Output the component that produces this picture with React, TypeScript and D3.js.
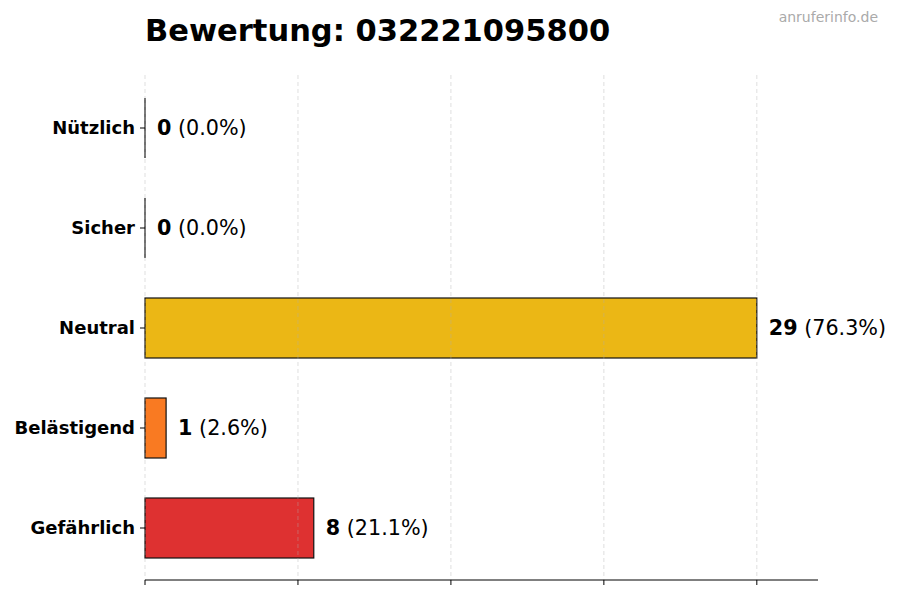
import { useEffect, useRef } from "react";
import * as d3 from "d3";

const categories = ["Nützlich", "Sicher", "Neutral", "Belästigend", "Gefährlich"];
const counts = [0, 0, 29, 1, 8];
const percents = ["0.0%", "0.0%", "76.3%", "2.6%", "21.1%"];
const colors = ["#22C55E", "#3B82F6", "#EAB308", "#F97316", "#DC2626"];

const title = "Bewertung: 032221095800";
const watermark = "anruferinfo.de";

const W = 900;
const H = 600;

export default function App() {
  const svgRef = useRef<SVGSVGElement | null>(null);

  useEffect(() => {
    if (!svgRef.current) return;
    const svg = d3.select(svgRef.current);
    svg.selectAll("*").remove();

    const left = 145;
    const right = 818;
    const top = 75;
    const bottom = 580;
    const maxVal = d3.max(counts) ?? 1;

    const x = d3.scaleLinear().domain([0, maxVal * 1.1]).range([left, right]);
    const y = d3
      .scaleBand<string>()
      .domain(categories)
      .range([78, 578])
      .paddingInner(0.4)
      .paddingOuter(0.2);

    const font = "DejaVu Sans, sans-serif";
    const ticks = d3.range(5).map((i) => (maxVal * i) / 4);

    // bars
    const bars = svg.append("g");
    bars
      .selectAll("rect")
      .data(categories)
      .join("rect")
      .attr("x", x(0))
      .attr("y", (d) => y(d) ?? 0)
      .attr("width", (_, i) => x(counts[i]) - x(0))
      .attr("height", y.bandwidth())
      .attr("fill", (_, i) => colors[i])
      .attr("fill-opacity", 0.95)
      .attr("stroke", "#111")
      .attr("stroke-width", 1.2);
    // zero-width bars still show their edge
    bars
      .selectAll("line")
      .data(categories.filter((_, i) => counts[i] === 0))
      .join("line")
      .attr("x1", x(0))
      .attr("x2", x(0))
      .attr("y1", (d) => y(d) ?? 0)
      .attr("y2", (d) => (y(d) ?? 0) + y.bandwidth())
      .attr("stroke", "#111")
      .attr("stroke-width", 1.2);

    // grid (drawn over bars)
    svg
      .append("g")
      .selectAll("line")
      .data(ticks)
      .join("line")
      .attr("x1", (d) => x(d))
      .attr("x2", (d) => x(d))
      .attr("y1", top)
      .attr("y2", bottom)
      .attr("stroke", "#b0b0b0")
      .attr("stroke-opacity", 0.5)
      .attr("stroke-dasharray", "4,3")
      .attr("stroke-width", 0.8);

    // bottom axis
    const axis = svg.append("g");
    axis
      .append("line")
      .attr("x1", left)
      .attr("x2", right)
      .attr("y1", bottom)
      .attr("y2", bottom)
      .attr("stroke", "#000")
      .attr("stroke-width", 1);
    axis
      .selectAll("line.tick")
      .data(ticks)
      .join("line")
      .attr("class", "tick")
      .attr("x1", (d) => x(d))
      .attr("x2", (d) => x(d))
      .attr("y1", bottom)
      .attr("y2", bottom + 5)
      .attr("stroke", "#000");

    // y ticks + labels
    const yg = svg.append("g");
    yg.selectAll("line")
      .data(categories)
      .join("line")
      .attr("x1", left - 5)
      .attr("x2", left)
      .attr("y1", (d) => (y(d) ?? 0) + y.bandwidth() / 2)
      .attr("y2", (d) => (y(d) ?? 0) + y.bandwidth() / 2)
      .attr("stroke", "#000");
    yg.selectAll("text")
      .data(categories)
      .join("text")
      .attr("x", left - 10)
      .attr("y", (d) => (y(d) ?? 0) + y.bandwidth() / 2)
      .attr("dy", "0.35em")
      .attr("text-anchor", "end")
      .style("font-family", font)
      .style("font-weight", "bold")
      .style("font-size", "18px")
      .text((d) => d);

    // value labels
    const vl = svg
      .append("g")
      .selectAll("text")
      .data(categories)
      .join("text")
      .attr("x", (_, i) => x(counts[i]) + 12)
      .attr("y", (d) => (y(d) ?? 0) + y.bandwidth() / 2)
      .attr("dy", "0.35em")
      .style("font-family", font)
      .style("font-size", "20.7px");
    vl.append("tspan")
      .style("font-weight", "bold")
      .text((_, i) => String(counts[i]));
    vl.append("tspan").text((_, i) => ` (${percents[i]})`);

    // title
    svg
      .append("text")
      .attr("x", left)
      .attr("y", 41)
      .style("font-family", font)
      .style("font-weight", "bold")
      .style("font-size", "30.5px")
      .text(title);

    svg
      .append("text")
      .attr("x", 878)
      .attr("y", 22)
      .attr("text-anchor", "end")
      .style("font-family", font)
      .style("font-size", "14px")
      .style("fill", "#aaaaaa")
      .text(watermark);
  }, []);

  return (
    <svg
      ref={svgRef}
      width={W}
      height={H}
      style={{ position: "absolute", left: 0, top: 0, background: "#fff" }}
    />
  );
}
